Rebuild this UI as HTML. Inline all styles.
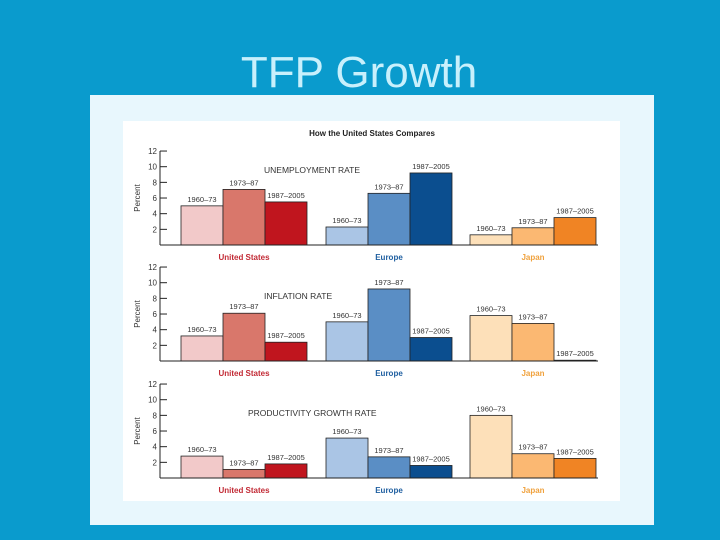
<!DOCTYPE html>
<html><head><meta charset="utf-8"><style>
html,body{margin:0;padding:0;}
body{width:720px;height:540px;background:#0a9bcd;position:relative;overflow:hidden;font-family:"Liberation Sans",sans-serif;}
#title{position:absolute;left:0;width:718px;top:48px;line-height:50px;text-align:center;color:#c8f0fc;font-size:44px;}
#outer{position:absolute;left:90px;top:95px;width:564px;height:430px;background:#e8f7fd;}
#inner{position:absolute;left:123px;top:121px;width:497px;height:380px;background:#fff;}
svg{position:absolute;left:0;top:0;}
</style></head><body>
<div id="title">TFP Growth</div>
<div id="outer"></div>
<div id="inner"></div>
<svg id="chart" width="720" height="540"></svg>
<script>
const countries = ["United States","Europe","Japan"];
const periods = ["1960–73","1973–87","1987–2005"];
const unemployment = [[5.0,7.1,5.5],[2.3,6.6,9.2],[1.3,2.2,3.5]];
const inflation = [[3.2,6.1,2.4],[5.0,9.2,3.0],[5.8,4.8,0.1]];
const productivity = [[2.8,1.1,1.8],[5.1,2.7,1.6],[8.0,3.1,2.5]];
const yTicks = [2,4,6,8,10,12];
const panelTitles = ["UNEMPLOYMENT RATE","INFLATION RATE","PRODUCTIVITY GROWTH RATE"];

const NS="http://www.w3.org/2000/svg";
const svg=document.getElementById('chart');
function mk(tag,attrs,parent){const e=document.createElementNS(NS,tag);for(const k in attrs)e.setAttribute(k,attrs[k]);(parent||svg).appendChild(e);return e;}
const colors=[["#f2c9c9","#d9776b","#c0151e"],["#aac5e5","#5a8ec5","#0b4e8f"],["#fde0b9","#fbb872","#f08424"]];
const labelColors=["#c22a35","#1f5fa0","#f0a23e"];
const groupX=[181,326,470];
const barW=42;
const panels=[{data:unemployment,base:245,tx:264,ty:173},{data:inflation,base:361,tx:264,ty:299},{data:productivity,base:478,tx:248,ty:416}];
const unit=7.83;

const sub=mk('text',{x:372,y:136,'text-anchor':'middle','font-size':'8','font-weight':'bold',fill:'#222'});
sub.textContent="How the United States Compares";



panels.forEach((p,pi)=>{
  const g=mk('g',{});
  
  
  const y=v=>p.base-v*unit;
  mk('line',{x1:160,y1:p.base,x2:160,y2:y(12),stroke:'#222','stroke-width':1},g);
  yTicks.forEach(t=>{
    mk('line',{x1:160,y1:y(t),x2:167,y2:y(t),stroke:'#222','stroke-width':1},g);
    const tl=mk('text',{x:157,y:y(t)+3,'text-anchor':'end','font-size':'8',fill:'#333'},g);
    tl.textContent=t;
    
    
  });
  const yl=mk('text',{transform:`translate(140,${y(6)}) rotate(-90)`,'text-anchor':'middle','font-size':'8',fill:'#333'},g);
  yl.textContent="Percent";
  
  
  const pt=mk('text',{x:p.tx,y:p.ty,'font-size':'8.5',fill:'#333'},g);
  pt.textContent=panelTitles[pi];
  
  
  p.data.forEach((vals,ci)=>{
    vals.forEach((v,bi)=>{
      const x=groupX[ci]+bi*barW;
      const r=mk('rect',{x:x,y:y(v),width:barW,height:Math.max(v*unit,0.5),fill:colors[ci][bi],stroke:'#222','stroke-width':0.8},g);
      
      
      const bl=mk('text',{x:x+barW/2,y:y(v)-4,'text-anchor':'middle','font-size':'7.5',fill:'#333'},g);
      bl.textContent=periods[bi];
      
      
    });
    const cl=mk('text',{x:groupX[ci]+barW*1.5,y:p.base+15,'text-anchor':'middle','font-size':'8','font-weight':'bold',fill:labelColors[ci]},g);
    cl.textContent=countries[ci];
    
    
  });
  mk('line',{x1:160,y1:p.base,x2:598,y2:p.base,stroke:'#222','stroke-width':1},g);
});
</script>
</body></html>
